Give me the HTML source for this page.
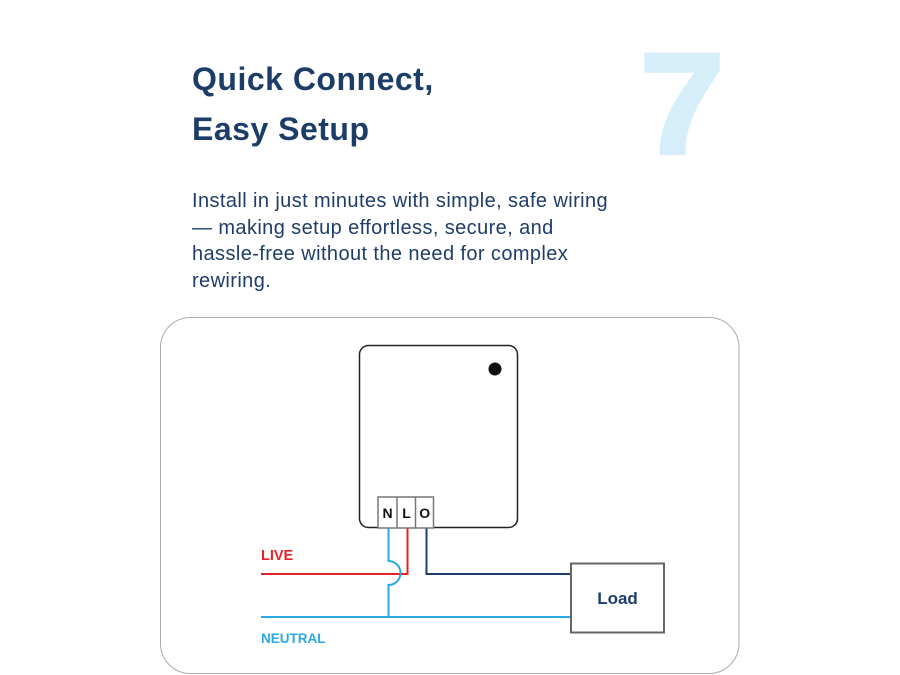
<!DOCTYPE html>
<html><head><meta charset="utf-8"><style>
html,body{margin:0;padding:0;background:#fff;}
body{width:900px;height:675px;position:relative;overflow:hidden;font-family:"Liberation Sans",sans-serif;}
svg{position:absolute;left:0;top:0;}
</style></head><body>
<svg width="900" height="675" viewBox="0 0 900 675" xmlns="http://www.w3.org/2000/svg">
  <!-- big 7 -->
  <text x="640" y="153" font-family="Liberation Sans, sans-serif" font-weight="700" font-size="143" fill="#d6eefa" stroke="#d6eefa" stroke-width="4" stroke-linejoin="miter" transform="translate(640 153) scale(1.06 1) translate(-640 -153)">7</text>
  <!-- title -->
  <g font-family="Liberation Sans, sans-serif" font-weight="700" font-size="32" fill="#1d3d69" letter-spacing="0.5">
    <text x="192" y="90">Quick Connect,</text>
    <text x="192" y="140">Easy Setup</text>
  </g>
  <!-- paragraph -->
  <g font-family="Liberation Sans, sans-serif" font-size="20" fill="#1f3d68" letter-spacing="0.4">
    <text x="192" y="207">Install in just minutes with simple, safe wiring</text>
    <text x="192" y="234">— making setup effortless, secure, and</text>
    <text x="192" y="260">hassle-free without the need for complex</text>
    <text x="192" y="287">rewiring.</text>
  </g>
  <!-- card -->
  <rect x="160.5" y="317.5" width="578.5" height="356" rx="30" ry="30" fill="none" stroke="#ababab" stroke-width="1"/>
  <!-- device -->
  <rect x="359.5" y="345.5" width="158" height="182" rx="9" ry="9" fill="#fff" stroke="#222" stroke-width="1.5"/>
  <circle cx="495" cy="369" r="6.5" fill="#111"/>
  <!-- terminals -->
  <rect x="378" y="497" width="55.5" height="31" fill="#fff" stroke="#777" stroke-width="1.5"/>
  <line x1="397" y1="497" x2="397" y2="528" stroke="#777" stroke-width="1.5"/>
  <line x1="415.5" y1="497" x2="415.5" y2="528" stroke="#777" stroke-width="1.5"/>
  <g font-family="Liberation Sans, sans-serif" font-weight="700" font-size="14" fill="#111" text-anchor="middle">
    <text x="387.5" y="518">N</text>
    <text x="406.5" y="518">L</text>
    <text x="424.7" y="518">O</text>
  </g>
  <!-- wires -->
  <polyline points="261,574 407.5,574 407.5,528.5" fill="none" stroke="#e8202a" stroke-width="2"/>
  <polyline points="426.5,528.5 426.5,574 571,574" fill="none" stroke="#1e3f6e" stroke-width="2"/>
  <path d="M388.5,528.5 L388.5,561 A12,12 0 0 1 388.5,585 L388.5,617" fill="none" stroke="#29aae1" stroke-width="2"/>
  <line x1="261" y1="617" x2="571" y2="617" stroke="#29aae1" stroke-width="2"/>
  <!-- load -->
  <rect x="571" y="563.5" width="93" height="69" fill="#fff" stroke="#666" stroke-width="2"/>
  <text x="617.5" y="604" font-family="Liberation Sans, sans-serif" font-weight="700" font-size="17" fill="#1d3d69" text-anchor="middle">Load</text>
  <!-- labels -->
  <text x="261" y="560" font-family="Liberation Sans, sans-serif" font-weight="700" font-size="14.5" fill="#e8202a">LIVE</text>
  <text x="261" y="643" font-family="Liberation Sans, sans-serif" font-weight="700" font-size="13.5" fill="#29aae1">NEUTRAL</text>
</svg>
</body></html>
